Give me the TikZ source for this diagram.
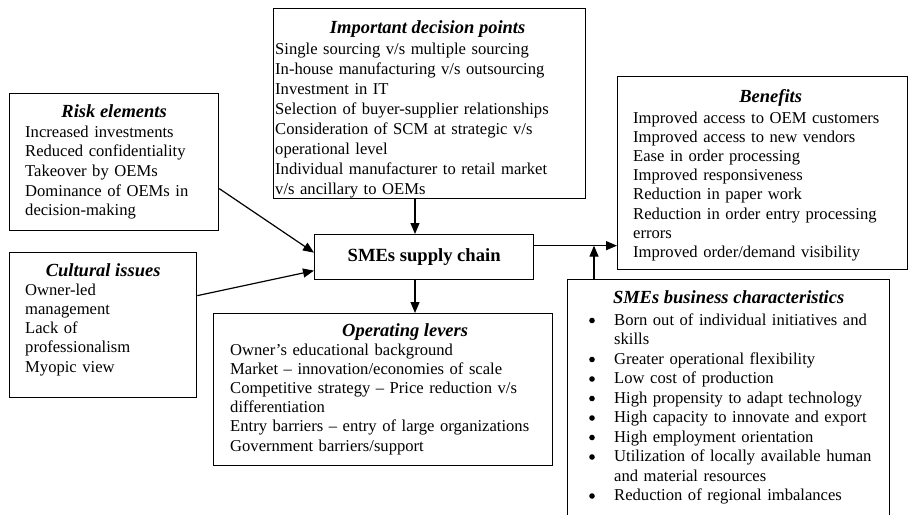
\documentclass[tikz,border=0pt]{standalone}
\usepackage{fontspec}
\setmainfont{Liberation Serif}
\usetikzlibrary{positioning,arrows.meta}

\tikzset{
  panel/.style={draw, line width=1.3pt, inner sep=0pt, anchor=north west},
  heading/.style={inner sep=0pt, anchor=base,
    font=\fontsize{18.5pt}{20pt}\selectfont\bfseries\itshape},
  body/.style={inner sep=0pt, anchor=base west, align=left, text width=340pt,
    font=\fontsize{16.6pt}{#1}\selectfont},
  body/.default=19.5pt,
  arr/.style={line width=1.2pt, -{Triangle[length=11pt,width=9pt]}},
}

\begin{document}
\begin{tikzpicture}[x=1pt, y=-1pt]
\useasboundingbox (0,0) rectangle (909,514);

% ---- frames ----
\node[panel, minimum width=312pt, minimum height=190pt] (dec) at (273,8) {};
\node[panel, minimum width=209pt, minimum height=137pt] (risk) at (9,93) {};
\node[panel, minimum width=187pt, minimum height=145pt] (cult) at (9,252) {};
\node[panel, minimum width=290pt, minimum height=193pt] (ben) at (617,76) {};
\node[panel, minimum width=339pt, minimum height=152pt] (opl) at (213,313) {};
\node[panel, minimum width=322pt, minimum height=260pt] (sme) at (567,279) {};
\node[panel, minimum width=219pt, minimum height=45pt,
  font=\fontsize{18.6pt}{20pt}\selectfont\bfseries] (sc) at (314,234) {SMEs supply chain};

% ---- decision points ----
\node[heading] (dec-t) at ([shift={(-2,25)}]dec.north) {Important decision points};
\node[body=20.1pt] (dec-b) at ([shift={(2,46)}]dec.north west) {%
  Single sourcing v/s multiple sourcing\\
  In-house manufacturing v/s outsourcing\\
  Investment in IT\\
  Selection of buyer-supplier relationships\\
  Consideration of SCM at strategic v/s\\
  operational level\\
  Individual manufacturer to retail market\\
  v/s ancillary to OEMs};

% ---- risk ----
\node[heading] (risk-t) at ([shift={(0,24)}]risk.north) {Risk elements};
\node[body=19.7pt] (risk-b) at ([shift={(16,44)}]risk.north west) {%
  Increased investments\\
  Reduced confidentiality\\
  Takeover by OEMs\\
  Dominance of OEMs in\\
  decision-making};

% ---- culture ----
\node[heading] (cult-t) at ([shift={(0,24)}]cult.north) {Cultural issues};
\node[body=19.3pt] (cult-b) at ([shift={(16,43)}]cult.north west) {%
  Owner-led\\
  management\\
  Lack of\\
  professionalism\\
  Myopic view};

% ---- benefits ----
\node[heading] (ben-t) at ([shift={(8,26)}]ben.north) {Benefits};
\node[body=19.2pt] (ben-b) at ([shift={(16,47)}]ben.north west) {%
  Improved access to OEM customers\\
  Improved access to new vendors\\
  Ease in order processing\\
  Improved responsiveness\\
  Reduction in paper work\\
  Reduction in order entry processing\\
  errors\\
  Improved order/demand visibility};

% ---- operating levers ----
\node[heading] (opl-t) at ([shift={(22,23)}]opl.north) {Operating levers};
\node[body=19.2pt] (opl-b) at ([shift={(17,42)}]opl.north west) {%
  Owner's educational background\\
  Market -- innovation/economies of scale\\
  Competitive strategy -- Price reduction v/s\\
  differentiation\\
  Entry barriers -- entry of large organizations\\
  Government barriers/support};

% ---- business characteristics ----
\node[heading] (sme-t) at ([shift={(0,24)}]sme.north) {SMEs business characteristics};
\node[body=19.5pt] (sme-b) at ([shift={(47,46)}]sme.north west) {%
  Born out of individual initiatives and\\
  skills\\
  Greater operational flexibility\\
  Low cost of production\\
  High propensity to adapt technology\\
  High capacity to innovate and export\\
  High employment orientation\\
  Utilization of locally available human\\
  and material resources\\
  Reduction of regional imbalances};
% bullet dots, one per item (lines 2 and 9 continue the item above)
\foreach \k in {0,2,3,4,5,6,7,9}
  \fill ([shift={(25,{41.5+19.5*\k})}]sme.north west) circle (2.8pt);

% ---- connectors ----
\coordinate (mid) at (415,0);
\coordinate (out) at ([yshift=11.5pt]sc.east);
\coordinate (up) at ([xshift=27pt]sme.north west);
\draw[arr] (dec.south -| mid) -- (sc.north -| mid);
\draw[arr] (sc.south -| mid) -- (opl.north -| mid);
\draw[arr] ([yshift=-26.5pt]risk.east) -- ([yshift=4.5pt]sc.west);
\draw[arr] ([yshift=29.5pt]cult.east) -- ([yshift=-13.5pt]sc.west);
\draw[arr] (out) -- (out -| ben.west);
\draw[arr] (up) -- (up |- out);
\end{tikzpicture}
\end{document}
